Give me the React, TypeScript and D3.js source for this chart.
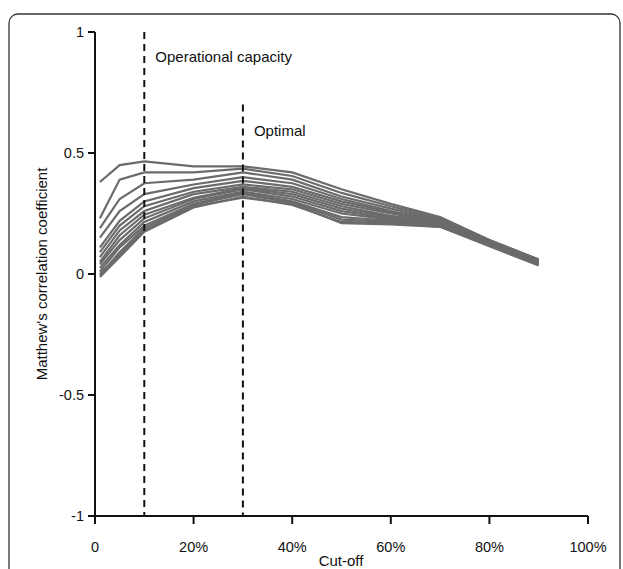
import React from "react";
import * as d3 from "d3";

const cutoffs = [1, 5, 10, 20, 30, 40, 50, 60, 70, 80, 90];
const series: number[][] = [
  [0.38, 0.45, 0.465, 0.445, 0.445, 0.42, 0.35, 0.29, 0.235, 0.14, 0.06],
  [0.23, 0.39, 0.42, 0.42, 0.435, 0.405, 0.335, 0.28, 0.23, 0.14, 0.06],
  [0.19, 0.31, 0.375, 0.39, 0.42, 0.39, 0.32, 0.27, 0.225, 0.135, 0.055],
  [0.15, 0.26, 0.33, 0.37, 0.4, 0.375, 0.31, 0.26, 0.22, 0.135, 0.055],
  [0.11, 0.22, 0.3, 0.355, 0.385, 0.36, 0.3, 0.255, 0.22, 0.13, 0.05],
  [0.09, 0.2, 0.28, 0.34, 0.37, 0.35, 0.29, 0.25, 0.215, 0.13, 0.05],
  [0.07, 0.18, 0.26, 0.33, 0.36, 0.34, 0.28, 0.24, 0.215, 0.13, 0.05],
  [0.05, 0.16, 0.245, 0.315, 0.355, 0.33, 0.27, 0.235, 0.21, 0.125, 0.05],
  [0.04, 0.14, 0.23, 0.31, 0.35, 0.32, 0.26, 0.23, 0.21, 0.125, 0.045],
  [0.025, 0.12, 0.215, 0.3, 0.34, 0.31, 0.25, 0.225, 0.205, 0.125, 0.045],
  [0.01, 0.11, 0.2, 0.29, 0.335, 0.3, 0.235, 0.22, 0.205, 0.12, 0.045],
  [-0.005, 0.09, 0.19, 0.285, 0.33, 0.295, 0.225, 0.215, 0.2, 0.12, 0.04],
  [-0.012, 0.07, 0.175, 0.275, 0.32, 0.285, 0.215, 0.21, 0.195, 0.12, 0.04],
  [0.0, 0.08, 0.18, 0.28, 0.315, 0.29, 0.21, 0.205, 0.195, 0.115, 0.035],
];
const xTicks = [0, 20, 40, 60, 80, 100];
const xTickLabels = ["0", "20%", "40%", "60%", "80%", "100%"];
const yTicks = [1, 0.5, 0, -0.5, -1];
const yTickLabels = ["1", "0.5", "0", "-0.5", "-1"];
const refLines = [
  { x: 10, top: 1, label: "Operational capacity", dy: 30 },
  { x: 30, top: 0.7, label: "Optimal", dy: 31 },
];

export default function App() {
  const W = 623, H = 569;
  const x = d3.scaleLinear().domain([0, 100]).range([95, 588]);
  const y = d3.scaleLinear().domain([-1, 1]).range([516, 32]);
  const line = d3.line<number>().x((_, i) => x(cutoffs[i])).y((d) => y(d));
  const font = "Arial, 'Liberation Sans', sans-serif";
  return (
    <svg width={W} height={H} style={{ position: "absolute", left: 0, top: 0 }} fontFamily={font}>
      <rect x={0} y={0} width={W} height={H} fill="#fff" />
      <rect x={9} y={14} width={611} height={600} rx={9} fill="none" stroke="#333" strokeWidth={1.3} />
      {series.map((s, i) => (
        <path key={i} d={line(s) || ""} fill="none" stroke="#6b6b6b" strokeWidth={2.2} />
      ))}
      {refLines.map((r, i) => (
        <g key={i}>
          <line x1={x(r.x)} x2={x(r.x)} y1={y(r.top)} y2={y(-1)} stroke="#111" strokeWidth={2} strokeDasharray="7,5" />
          <text x={x(r.x) + 11} y={y(r.top) + r.dy} fontSize={15} fill="#111">{r.label}</text>
        </g>
      ))}
      <line x1={x(0)} x2={x(0)} y1={y(1)} y2={y(-1)} stroke="#111" strokeWidth={2} />
      <line x1={x(0) - 7} x2={x(100)} y1={y(-1)} y2={y(-1)} stroke="#111" strokeWidth={2} />
      {yTicks.map((t, i) => (
        <g key={i}>
          <line x1={x(0) - 7} x2={x(0)} y1={y(t)} y2={y(t)} stroke="#111" strokeWidth={2} />
          <text x={x(0) - 11} y={y(t) + 5} fontSize={14.5} textAnchor="end" fill="#111">{yTickLabels[i]}</text>
        </g>
      ))}
      {xTicks.map((t, i) => (
        <g key={i}>
          <line x1={x(t)} x2={x(t)} y1={y(-1)} y2={y(-1) + 8} stroke="#111" strokeWidth={2} />
          <text x={x(t)} y={y(-1) + 36} fontSize={14.5} textAnchor="middle" fill="#111">{xTickLabels[i]}</text>
        </g>
      ))}
      <text x={341} y={566} fontSize={15} textAnchor="middle" fill="#111">Cut-off</text>
      <text transform={`translate(47,${y(0)}) rotate(-90)`} fontSize={15} textAnchor="middle" fill="#111">Matthew's correlation coefficient</text>
    </svg>
  );
}
